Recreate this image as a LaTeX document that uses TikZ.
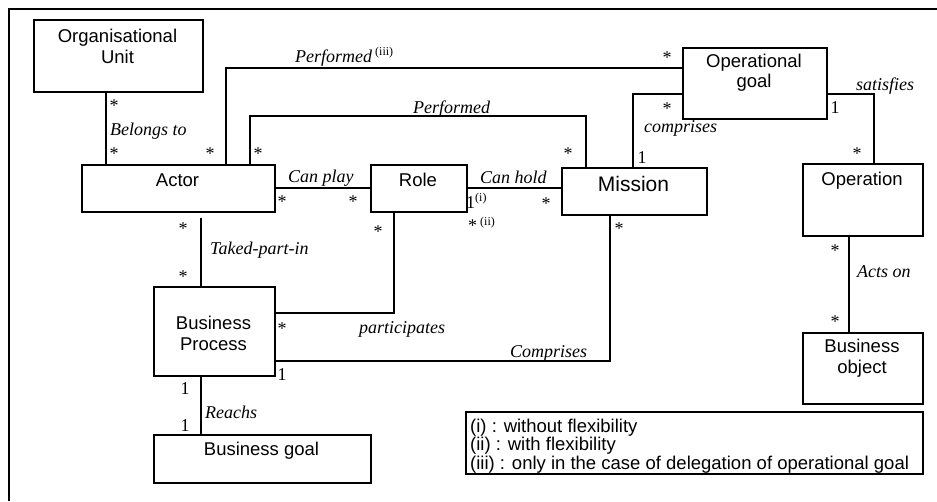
\documentclass[tikz,border=0pt]{standalone}
\usepackage{fontspec}
\setmainfont{Liberation Serif}
\setsansfont{Liberation Sans}
\newcommand\supfont{\fontsize{12}{12}\selectfont\upshape}
\begin{document}
\begin{tikzpicture}[x=1pt,y=-1pt,
  box/.style={draw, line width=1.8pt, anchor=north west, inner sep=0pt},
  bt/.style={font=\sffamily\fontsize{18.5}{21}\selectfont, anchor=base, inner sep=0pt},
  lt/.style={font=\sffamily\fontsize{18.5}{18.5}\selectfont, anchor=base west, inner sep=0pt},
  lab/.style={font=\itshape\fontsize{18}{21}\selectfont, anchor=base west, inner sep=0pt},
  mult/.style={font=\fontsize{18}{21}\selectfont, anchor=base, inner sep=0pt},
  conn/.style={line width=1.8pt}]
\useasboundingbox (0,0) rectangle (937,501);
% frame
\draw[line width=2pt] (9,501) -- (9,9) -- (937,9);

% boxes
\node[box, minimum width=169pt, minimum height=72pt] (ou) at (33,19) {};
\node[bt] (ou-t1) at (117.5,42) {Organisational};
\node[bt] (ou-t2) at (117.5,63) {Unit};

\node[box, minimum width=193pt, minimum height=47pt] (actor) at (81,164) {};
\node[bt] (actor-t) at (177.5,186) {Actor};

\node[box, minimum width=96pt, minimum height=47pt] (role) at (370,164) {};
\node[bt] (role-t) at (418,186) {Role};

\node[box, minimum width=145pt, minimum height=47pt] (mission) at (561,167) {};
\node[bt, font=\sffamily\fontsize{21}{24}\selectfont] (mission-t) at (633.5,191) {Mission};

\node[box, minimum width=144pt, minimum height=71pt] (opg) at (682,47) {};
\node[bt] (opg-t1) at (754,67) {Operational};
\node[bt] (opg-t2) at (754,87) {goal};

\node[box, minimum width=120pt, minimum height=72pt] (operation) at (802,163) {};
\node[bt] (operation-t) at (862,185) {Operation};

\node[box, minimum width=121pt, minimum height=89pt] (bp) at (153,286) {};
\node[bt] (bp-t1) at (213.5,329) {Business};
\node[bt] (bp-t2) at (213.5,350) {Process};

\node[box, minimum width=217pt, minimum height=48pt] (bg) at (153,434) {};
\node[bt] (bg-t) at (261.5,455) {Business goal};

\node[box, minimum width=120pt, minimum height=71pt] (bo) at (802,332) {};
\node[bt] (bo-t1) at (862,352) {Business};
\node[bt] (bo-t2) at (862,373) {object};

\node[box, minimum width=457pt, minimum height=62pt] (legend) at (465,411) {};
\node[lt] (leg1) at (470,432) {(i) : without flexibility};
\node[lt] (leg2) at (470,450.5) {(ii) : with flexibility};
\node[lt] (leg3) at (470,469) {(iii) : only in the case of delegation of operational goal};

% connector coordinates
\coordinate (cOU) at (106,0);
\coordinate (cP3) at (226,68);
\coordinate (cP1) at (250,116);
\coordinate (cP2) at (586,116);
\coordinate (cCP) at (0,188);
\coordinate (cCm) at (633,94);
\coordinate (cSat) at (874,94);
\coordinate (cT1) at (201,218);
\coordinate (cPa) at (394,313);
\coordinate (cCo) at (610,361);
\coordinate (cAO) at (849,0);

% connectors
\draw[conn] (ou.south -| cOU) -- (actor.north -| cOU);
\draw[conn] (actor.north -| cP3) -- (cP3) -- (opg.west |- cP3);
\draw[conn] (actor.north -| cP1) -- (cP1) -- (cP2) -- (mission.north -| cP2);
\draw[conn] (actor.east |- cCP) -- (role.west |- cCP);
\draw[conn] (role.east |- cCP) -- (mission.west |- cCP);
\draw[conn] (mission.north -| cCm) -- (cCm) -- (opg.west |- cCm);
\draw[conn] (opg.east |- cSat) -- (cSat) -- (operation.north -| cSat);
\draw[conn] (cT1) -- (bp.north -| cT1);
\draw[conn] (role.south -| cPa) -- (cPa) -- (bp.east |- cPa);
\draw[conn] (mission.south -| cCo) -- (cCo) -- (bp.east |- cCo);
\draw[conn] (bp.south -| cT1) -- (bg.north -| cT1);
\draw[conn] (operation.south -| cAO) -- (bo.north -| cAO);

% association labels
\node[lab] (l-bel) at (110,135) {Belongs to};
\node[lab] (l-perf3) at (295,62) {Performed\,\raisebox{7pt}{\supfont(iii)}};
\node[lab] (l-perf) at (413,113) {Performed};
\node[lab] (l-play) at (288,182) {Can play};
\node[lab] (l-hold) at (480,183) {Can hold};
\node[lab] (l-comp) at (644,132) {comprises};
\node[lab] (l-sat) at (856,90) {satisfies};
\node[lab] (l-take) at (210,254) {Taked-part-in};
\node[lab] (l-part) at (359,333) {participates};
\node[lab] (l-Comp) at (510,357) {Comprises};
\node[lab] (l-reach) at (205,418) {Reachs};
\node[lab] (l-acts) at (857,277) {Acts on};

% multiplicities
\node[mult] (m1) at (114,111) {*};
\node[mult] (m2) at (114,159) {*};
\node[mult] (m3) at (210,159) {*};
\node[mult] (m4) at (258,159) {*};
\node[mult] (m5) at (667,63) {*};
\node[mult] (m6) at (568,159) {*};
\node[mult] (m7) at (282,207) {*};
\node[mult] (m8) at (353,207) {*};
\node[mult] (m9) at (546,209) {*};
\node[mult] (m10) at (667,114) {*};
\node[mult] (m11) at (857,159) {*};
\node[mult] (m12) at (183,234) {*};
\node[mult] (m13) at (183,282) {*};
\node[mult] (m14) at (378,237) {*};
\node[mult] (m15) at (282,334) {*};
\node[mult] (m16) at (619,234) {*};
\node[mult] (m17) at (835,256) {*};
\node[mult] (m18) at (835,327) {*};
\node[mult, anchor=base west] (m19) at (468,231) {*\,\raisebox{6pt}{\supfont(ii)}};
\node[mult, anchor=base west] (m20) at (466,208) {1\raisebox{7pt}{\supfont(i)}};
\node[mult] (o1) at (642,163) {1};
\node[mult] (o2) at (835,113) {1};
\node[mult] (o3) at (282,380) {1};
\node[mult] (o4) at (185,394) {1};
\node[mult] (o5) at (185,431) {1};
\end{tikzpicture}
\end{document}
